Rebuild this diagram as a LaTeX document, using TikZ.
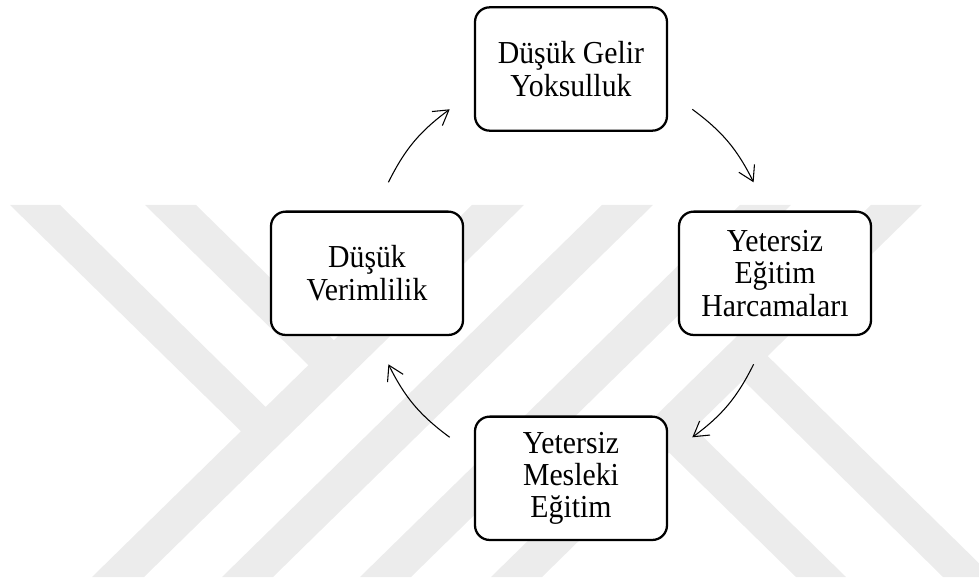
\documentclass[tikz,border=0pt]{standalone}
\usepackage{fontspec}
\setmainfont{Liberation Serif}
\newfontfamily\boxfont[FakeStretch=0.93]{Liberation Serif}
\usetikzlibrary{arrows.meta}
\definecolor{wm}{RGB}{236,236,236}
\begin{document}
\begin{tikzpicture}[x=0.75pt,y=0.75pt,
  box/.style={draw=black, line width=1.7pt, rounded corners=11pt, fill=white,
    minimum width=144pt, minimum height=92.5pt, inner sep=0pt, align=center,
    font=\boxfont\fontsize{24}{24.3}\selectfont},
  cyc/.style={line width=0.8pt, -{Straight Barb[length=10.9pt,width=13.1pt]}, bend left=13.5},
  band/.style={fill=wm, draw=none}]
\useasboundingbox (0,0) rectangle (979,579);
% watermark
\begin{scope}
\clip (0,0) rectangle (979,579);
\fill[band] (472,374) -- (524,374) -- (144,2) -- (92,2) -- cycle;
\fill[band] (602,374) -- (653,374) -- (273,2) -- (222,2) -- cycle;
\fill[band] (740,374) -- (791,374) -- (411,2) -- (360,2) -- cycle;
\fill[band] (871,374) -- (922,374) -- (542,2) -- (491,2) -- cycle;
\fill[band] (10,374) -- (60,374) -- (279,159) -- (254,135) -- cycle;
\fill[band] (145,374) -- (196,374) -- (347,226) -- (321.5,201) -- cycle;
\fill[band] (656.6,138.7) -- (681.6,163.2) -- (846,2) -- (796,2) -- cycle;
\fill[band] (730.9,210.8) -- (755.1,235.3) -- (993,2) -- (943,2) -- cycle;
\end{scope}
% boxes
\node[box] (top) at (571,510) {Düşük Gelir\\Yoksulluk};
\node[box] (right) at (775,305.7) {Yetersiz\\Eğitim\\Harcamaları};
\node[box] (bottom) at (571,100.7) {Yetersiz\\Mesleki\\Eğitim};
\node[box] (left) at (367,305.7) {Düşük\\Verimlilik};
% arrow ends
\coordinate (s1) at (388.4,396.7);
\coordinate (e1) at (449.7,469.7);
\coordinate (s2) at (692.3,469.7);
\coordinate (e2) at (753.6,396.7);
\coordinate (s3) at (753.6,214.7);
\coordinate (e3) at (692.3,141.7);
\coordinate (s4) at (449.7,141.7);
\coordinate (e4) at (388.4,214.7);
\draw[cyc] (s1) to (e1);
\draw[cyc] (s2) to (e2);
\draw[cyc] (s3) to (e3);
\draw[cyc] (s4) to (e4);
\end{tikzpicture}
\end{document}
